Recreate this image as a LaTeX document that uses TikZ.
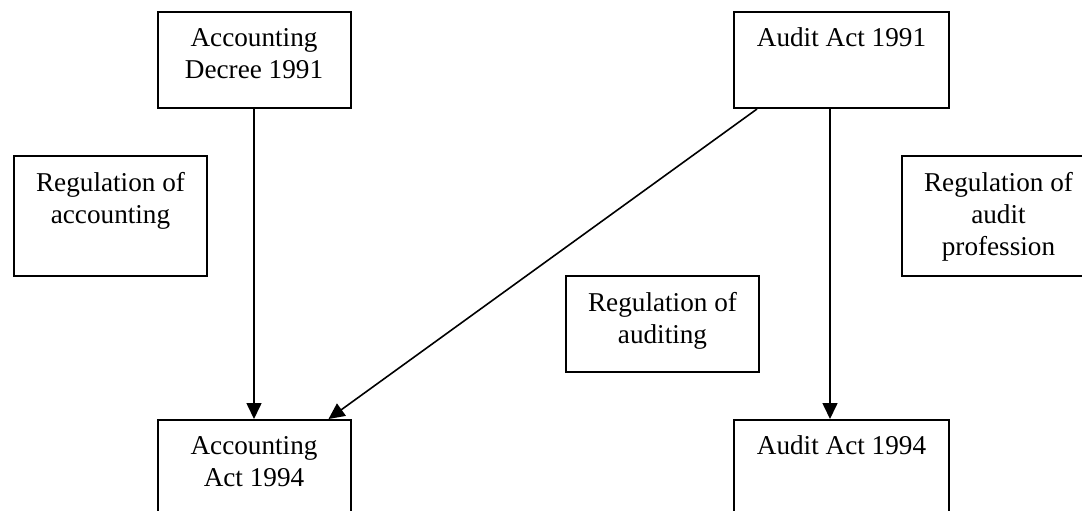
\documentclass[tikz,border=0pt]{standalone}
\usepackage{fontspec}
\setmainfont{Liberation Serif}
\usetikzlibrary{arrows.meta}

\begin{document}
\begin{tikzpicture}[x=0.5pt, y=-0.5pt,
    box/.style={draw, line width=1pt, minimum width=96.5pt, minimum height=48pt, inner sep=0pt},
    boxtext/.style={anchor=north, align=center, inner sep=0pt, yshift=-8.3pt, font=\fontsize{13.6}{16}\selectfont},
    link/.style={line width=0.8pt, -{Triangle[length=8pt, width=7.5pt]}}]
    \useasboundingbox (0,0) rectangle (1082,510);

    % acts and decrees
    \node[box, label={[boxtext]north:{Accounting\\Decree 1991}}] (acdec) at (254,60) {};
    \node[box, minimum width=107.5pt, label={[boxtext]north:{Audit Act 1991}}] (audit91) at (841.5,60) {};
    \node[box, label={[boxtext]north:{Accounting\\Act 1994}}] (acact) at (254,468) {};
    \node[box, minimum width=107.5pt, label={[boxtext]north:{Audit Act 1994}}] (audit94) at (841.5,468) {};

    % regulation areas
    \node[box, minimum height=60pt, label={[boxtext]north:{Regulation of\\accounting}}] (regacc) at (110.5,216) {};
    \node[box, minimum height=60pt, label={[boxtext]north:{Regulation of\\audit\\profession}}] (regprof) at (998.5,216) {};
    \node[box, label={[boxtext]north:{Regulation of\\auditing}}] (regaud) at (662.5,324) {};

    % links
    \draw[link] (acdec.south) -- (acact.north);
    \draw[link] ([xshift=12pt]audit91.south west) -- ([xshift=-11.5pt]acact.north east);
    \draw[link] ([xshift=-5.75pt]audit91.south) -- ([xshift=-5.75pt]audit94.north);
\end{tikzpicture}
\end{document}
